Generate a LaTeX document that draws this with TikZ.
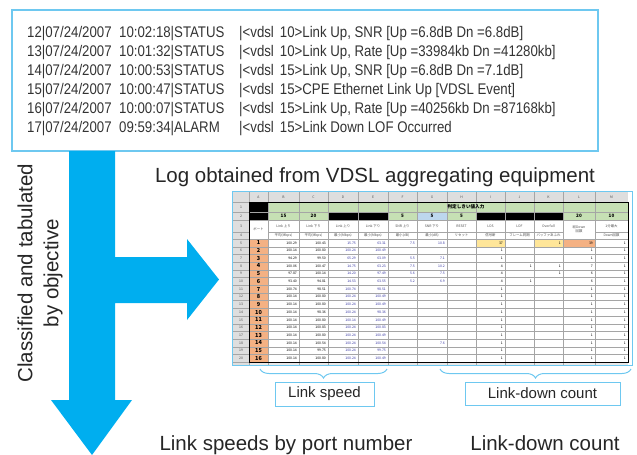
\documentclass[tikz,border=0pt]{standalone}
\usepackage{fontspec}
\setmainfont{Liberation Sans}
\newfontfamily\logfont[FakeStretch=0.86]{Liberation Sans}
\newfontfamily\jpfont{Noto Sans CJK JP}
\definecolor{arrowcyan}{RGB}{0, 174, 239}
\definecolor{framecyan}{RGB}{110, 200, 240}
\definecolor{sheetgreen}{RGB}{198, 224, 180}
\definecolor{sheetblue}{RGB}{189, 215, 238}
\definecolor{sheetorange}{RGB}{244, 177, 131}
\definecolor{sheetyellow}{RGB}{255, 230, 153}
\definecolor{sheetgray}{RGB}{222, 222, 222}
\definecolor{gridgray}{RGB}{165, 165, 165}
\definecolor{valblue}{RGB}{50, 50, 160}
\usetikzlibrary{positioning, decorations.pathreplacing, calc}

\begin{document}
\begin{tikzpicture}[
    x=1pt, y=-1pt,
    logbox/.style={draw=framecyan, line width=1.2pt, minimum width=586pt, minimum height=141pt, inner sep=0pt},
    logtext/.style={anchor=base west, inner sep=0pt, font=\logfont\fontsize{15.4}{16}\selectfont, text=black!80},
    caption/.style={font=\fontsize{20.5}{26}\selectfont, inner sep=0pt, text=black!85},
    tagbox/.style={draw=framecyan, line width=0.8pt, font=\fontsize{15}{18}\selectfont, inner sep=0pt, text=black!85},
    brace/.style={draw=framecyan, line width=1pt, decorate, decoration={brace, mirror, amplitude=9pt}},
    gridline/.style={draw=gridgray, line width=0.3pt},
    sheethead/.style={font=\jpfont\fontsize{3.4}{4}\selectfont, inner sep=0pt, text=black!70},
    sheetval/.style={font=\jpfont\fontsize{3.4}{4}\selectfont, inner sep=0pt, anchor=east},
    sheetport/.style={font=\jpfont\bfseries\fontsize{5.5}{6}\selectfont, inner sep=0pt},
    sheetset/.style={font=\jpfont\bfseries\fontsize{4.6}{5}\selectfont, inner sep=0pt},
  ]
  \useasboundingbox (0,0) rectangle (637,455);

  % Log box
  \node[logbox] (logbox) at (305,80.5) {};
  \foreach \dt/\tm/\msg [count=\k] in {
      {12|07/24/2007}/{10:02:18|STATUS}/{|<vdsl\hspace{6pt}10>Link Up, SNR [Up =6.8dB Dn =6.8dB]},
      {13|07/24/2007}/{10:01:32|STATUS}/{|<vdsl\hspace{6pt}10>Link Up, Rate [Up =33984kb Dn =41280kb]},
      {14|07/24/2007}/{10:00:53|STATUS}/{|<vdsl\hspace{6pt}15>Link Up, SNR [Up =6.8dB Dn =7.1dB]},
      {15|07/24/2007}/{10:00:47|STATUS}/{|<vdsl\hspace{6pt}15>CPE Ethernet Link Up [VDSL Event]},
      {16|07/24/2007}/{10:00:07|STATUS}/{|<vdsl\hspace{6pt}15>Link Up, Rate [Up =40256kb Dn =87168kb]},
      {17|07/24/2007}/{09:59:34|ALARM}/{|<vdsl\hspace{6pt}15>Link Down LOF Occurred}} {
    \node[logtext] (date\k) at (27,18+19*\k) {\dt};
    \node[logtext] (time\k) at (119,18+19*\k) {\tm};
    \node[logtext] (msg\k) at (239,18+19*\k) {\msg};
  }

  % Block arrow
  \fill[arrowcyan] (69,151) -- (115,151) -- (115,257) -- (187,257) -- (187,239) -- (219,279.5)
    -- (187,320) -- (187,303) -- (115,303) -- (115,400) -- (132,400) -- (92,455) -- (51,400)
    -- (69,400) -- cycle;
  \node[caption, rotate=90, align=center] (howto) at (40,273) {Classified and tabulated\\by objective};

  % Captions
  \node[caption, anchor=base] (logcap) at (375,182) {Log obtained from VDSL aggregating equipment};
  \node[caption, anchor=base] (speedcap) at (286,450) {Link speeds by port number};
  \node[caption, anchor=base] (downcap) at (545,450) {Link-down count};

  % Spreadsheet fills
  \fill[sheetgray] (233,192) rectangle (628,202);
  \fill[sheetgray] (233,202) rectangle (249,365);
  \fill[sheetgray!70] (249,362.2) rectangle (628,365);
  \fill[black] (249,202) rectangle (268,220);
  \fill[sheetgreen] (268,202) rectangle (628,212);
  \fill[sheetgreen] (268,212) rectangle (328,220);
  \fill[black] (328,212) rectangle (388,220);
  \fill[sheetgreen] (388,212) rectangle (417,220);
  \fill[sheetblue] (417,212) rectangle (447,220);
  \fill[sheetgreen] (447,212) rectangle (476,220);
  \fill[black] (476,212) rectangle (563,220);
  \fill[sheetgreen] (563,212) rectangle (628,220);
  \fill[sheetorange] (249,239) rectangle (268,362.2);
  \fill[sheetyellow] (476,239) rectangle (505,246.7);
  \fill[sheetyellow] (534,239) rectangle (563,246.7);
  \fill[sheetorange] (563,239) rectangle (595,246.7);

  % Spreadsheet grid
  \foreach \x in {249,268,299,328,358,388,417,447,476,505,534,563,595}
    \draw[gridline] (\x,192) -- (\x,365);
  \foreach \y in {202,212,220,239}
    \draw[gridline] (233,\y) -- (628,\y);
  \draw[gridline] (233,232) -- (249,232);
  \draw[gridline] (268,232) -- (563,232);
  \draw[gridline] (595,232) -- (628,232);
  \foreach \k in {1,...,16}
    \draw[gridline] (233,239+\k*7.7) -- (628,239+\k*7.7);
  \draw[line width=0.8pt] (249,202) rectangle (628,362.2);
  \draw[framecyan, line width=0.8pt] (232,191) rectangle (632,365.5);

  % Column letters and row numbers
  \foreach \col/\x in {A/258.5,B/283.5,C/313.5,D/343,E/373,F/402.5,G/432,H/461.5,I/490.5,J/519.5,K/548.5,L/579,M/611.5}
    \node[sheethead] (col\col) at (\x,197) {\col};
  \foreach \r/\y in {1/207,2/216,3/226,4/235.5}
    \node[sheethead] (row\r) at (241,\y) {\r};
  \foreach \r in {5,...,20}
    \node[sheethead] (row\r) at (241,{239+(\r-5)*7.7+3.85}) {\r};

  % Threshold rows
  \node[sheetset] (setting) at (466,207) {判定しきい値入力};
  \foreach \v/\x [count=\k] in {15/283.5,20/313.5,5/402.5,5/432,5/461.5,20/579,10/611.5}
    \node[sheetset] (lim\k) at (\x,216) {\v};

  % Column headings
  \node[sheethead] (hport) at (258.5,229.5) {ポート};
  \foreach \ta/\tb/\x [count=\k] in {
      Link 上り/平均(Mbps)/283.5, Link 下り/平均(Mbps)/313.5,
      Link 上り/最小(Mbps)/343, Link 下り/最小(Mbps)/373,
      SNR 上り/最小(dB)/402.5, SNR 下り/最小(dB)/432,
      RESET/リセット/461.5, LOS/信号断/490.5, LOF/フレーム同期/519.5,
      Overfull/バッファあふれ/548.5, 1分最大/Down回数/611.5} {
    \node[sheethead] (ha\k) at (\x,226) {\ta};
    \node[sheethead] (hb\k) at (\x,235.5) {\tb};
  }
  \node[sheethead, align=center] (htotal) at (579,229.5) {総Down\\回数};

  % Data rows
  \foreach \pt/\vb/\vc/\vd/\ve/\vf/\vg/\vi/\vj/\vk/\vl in {
      1/100.29/100.43/15.75/63.31/7.5/10.8/37/ /1/39,
      2/100.14/100.80/100.24/100.49/ / /1/ / /1,
      3/94.29/99.50/65.29/63.09/5.5/7.1/1/ / /1,
      4/100.06/100.47/14.75/63.23/7.5/10.2/4/1/1/7,
      5/97.87/100.14/14.20/97.49/5.6/7.5/4/ /1/6,
      6/93.40/94.81/14.53/63.55/5.2/6.9/4/1/ /6,
      7/100.74/98.51/100.74/98.51/ / /1/ / /1,
      8/100.14/100.80/100.24/100.49/ / /1/ / /1,
      9/100.14/100.80/100.24/100.49/ / /1/ / /1,
      10/100.14/98.36/100.24/98.36/ / /1/ / /1,
      11/100.14/100.80/100.14/100.49/ / /1/ / /1,
      12/100.14/100.83/100.24/100.83/ / /1/ / /1,
      13/100.14/100.80/100.24/100.49/ / /1/ / /1,
      14/100.14/100.54/100.24/100.54/ /7.6/1/ / /1,
      15/100.14/99.75/100.24/99.75/ / /1/ / /1,
      16/100.14/100.80/100.24/100.49/ / /1/ / /1} {
    \pgfmathsetmacro\yy{239+(\pt-1)*7.7+3.85}
    \node[sheetport] (port\pt) at (258.5,\yy) {\pt};
    \node[sheetval] (avgup\pt) at (297,\yy) {\vb};
    \node[sheetval] (avgdn\pt) at (326,\yy) {\vc};
    \node[sheetval, text=valblue] (minup\pt) at (356,\yy) {\vd};
    \node[sheetval, text=valblue] (mindn\pt) at (386,\yy) {\ve};
    \node[sheetval, text=valblue] (snrup\pt) at (415,\yy) {\vf};
    \node[sheetval, text=valblue] (snrdn\pt) at (445,\yy) {\vg};
    \node[sheetval] (los\pt) at (503,\yy) {\vi};
    \node[sheetval] (lof\pt) at (532,\yy) {\vj};
    \node[sheetval] (over\pt) at (561,\yy) {\vk};
    \node[sheetval] (total\pt) at (593,\yy) {\vl};
    \node[sheetval] (permin\pt) at (626,\yy) {1};
  }

  % Braces and tags
  \coordinate (speedl) at (260,369);
  \coordinate (speedr) at (387,369);
  \coordinate (downl) at (440,369);
  \coordinate (downr) at (631,369);
  \draw[brace] (speedl) -- (speedr);
  \draw[brace] (downl) -- (downr);
  \node[tagbox, minimum width=99pt, minimum height=24pt] (speedtag) at (324.5,394) {Link speed};
  \node[tagbox, minimum width=155pt, minimum height=23pt] (downtag) at (542.5,393.5) {Link-down count};

\end{tikzpicture}
\end{document}
